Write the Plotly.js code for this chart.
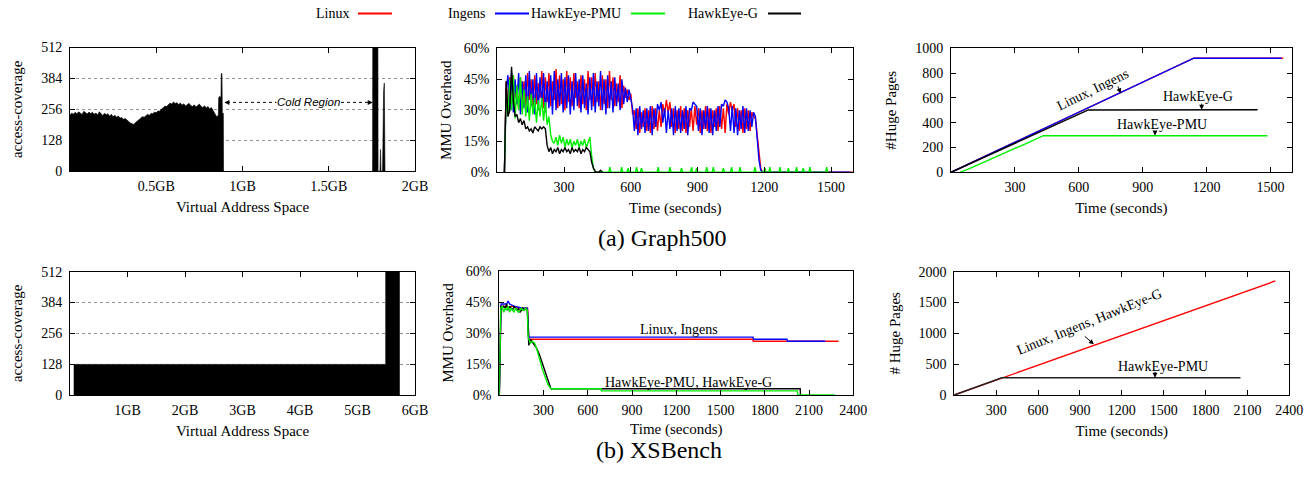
<!DOCTYPE html>
<html><head><meta charset="utf-8">
<script src="https://cdn.plot.ly/plotly-3.0.1.min.js"></script>
<style>html,body{margin:0;padding:0;background:#fff}#chart{width:1313px;height:479px}</style>
</head><body><div id="chart"></div>
<script>
// ---------------- DATA ----------------
// (a) Graph500 access-coverage profile, sampled every 0.01 GB from 0 GB
const g500CovStep = 0.01;
const g500Cov = [232,241,236,244,238,246,240,235,248,242,237,245,239,244,236,241,233,246,238,231,
  240,234,238,228,236,226,232,224,229,220,222,215,218,210,206,200,196,194,202,208,
  214,220,226,224,232,236,231,240,238,245,242,250,248,258,262,270,268,276,282,278,
  287,280,284,276,282,274,279,270,276,281,272,268,275,266,272,278,268,264,271,262,
  268,258,264,252,238,226,232];
const g500CovTailX = [0.862,0.870,0.875,0.877,0.881,0.883,0.889,0.890];
const g500CovTailY = [305,310,300,404,404,240,240,0];
const g500HotX = [1.754,1.755,1.785,1.786,1.797,1.800,1.803,1.812,1.818,1.822,1.826];
const g500HotY = [0,512,512,0,0,90,0,0,330,365,0];

// (a) Graph500 MMU overhead (%), sampled every 8 s from t = 32 s
const g500T0 = 32, g500Dt = 8;
const g500Linux = [0,44,31,46,33,47,36,42,30,46,34,44,32,48,35,45,30,47,33,43,36,49,31,46,34,48,32,44,35,50,31,47,33,45,30,49,34,46,32,48,36,44,31,47,33,45,30,49,35,46,32,48,34,44,30,47,33,45,31,49,35,46,32,43,34,47,31,42,36,40,35,38,28,
  30,21,31,19,29,22,31,20,30,19,32,21,31,20,30,22,33,28,35,29,34,22,31,19,30,21,32,20,31,19,30,22,31,20,32,23,31,19,30,21,32,20,31,19,30,22,31,20,32,21,31,19,33,28,34,30,33,22,31,20,30,19,31,21,30,20,29,27,26,18,8,2,0];
const g500Ingens = [0,40,47,30,48,29,45,33,48,28,44,31,47,29,49,32,45,28,48,30,46,33,48,29,44,31,47,28,49,30,45,32,48,29,46,31,47,28,44,30,48,32,45,29,47,31,43,28,46,30,48,29,44,32,49,30,45,28,47,31,44,29,46,32,43,30,45,33,41,34,40,36,31,
  20,31,18,32,21,30,19,31,20,32,18,31,22,33,30,34,24,31,19,30,21,31,18,32,20,31,19,30,21,32,18,31,30,34,33,32,20,31,18,30,21,32,19,31,18,30,20,32,22,33,32,35,34,31,20,32,19,31,18,30,21,32,19,31,20,30,22,29,27,17,6,1,0];
const g500PMU = [0,38,27,45,30,47,26,42,30,46,28,40,27,37,25,38,28,36,24,35,27,36,25,34,23,27,18,15,14,17,13,18,14,17,12,16,13,16,12,15,13,16,12,15,13,16,12,15,17,8,2,0];
const g500G = [0,44,27,30,51,35,27,28,24,26,23,25,21,22,20,21,19,22,21,20,22,21,22,21,13,10,12,9,11,10,12,9,11,10,12,10,11,9,12,10,11,10,12,9,11,10,12,11,10,5,2,0.5,0,0,1,0];
const g500PMUSpikeT = [506,559,588,626,648,723,776,828,873,896,941,971,1016,1053,1091,1158,1203,1225,1270,1308,1345,1375,1405,1480];
const g500PMUSpikeV = [2.5,2.5,2,2.5,2,2.5,2.5,2,2.5,2,2.5,2.5,2,2.5,2.5,2.5,2,2.5,2.5,2,2.5,2,2.5,2.5];
const g500EndT = 1600, g500PMUEndT = 1490;

// (a) Graph500 huge pages
const g500HpLinuxT = [0,1140,1560], g500HpLinuxV = [0,920,920];
const g500HpIngensT = [0,1140,1552], g500HpIngensV = [0,920,920];
const g500HpGT = [0,645,1440], g500HpGV = [0,503,505];
const g500HpPMUT = [42,89,355,434,1486], g500HpPMUV = [0,32,234,295,295];

// (b) XSBench access-coverage
const xsCovX = [0.07,0.07,5.49,5.49,5.73,5.73];
const xsCovY = [0,127,127,512,512,0];

// (b) XSBench MMU overhead (%)
const xsLinuxT = [0,12,30,60,90,120,150,180,192,200,1718,1722,2300];
const xsLinuxV = [0,43,43,42.5,43,42.5,42,42,42,27,27,26,26];
const xsIngensT = [0,12,30,50,60,70,100,130,160,190,196,200,1720,1724,1950,1954,2210];
const xsIngensV = [0,44,44,44,45.5,44,43,42.5,42,42,30,28,28,27,27,26,26];
const xsGT = [0,10,20,30,40,50,60,70,80,90,100,110,120,130,140,150,160,170,180,190,196,200,210,230,250,270,290,310,330,350,2040,2042];
const xsGV = [0,43,42,43,42,44,41,43,42,41,43,42,41,42,40,41,42,41,42,41,30,24,27,25,23,20,16,12,7,3,3,0];
const xsPMUT = [0,10,20,30,40,50,60,70,80,90,100,110,120,130,140,150,160,170,180,190,196,210,225,240,255,270,290,310,330,350,360,690,692,2020,2024,2275];
const xsPMUV = [0,42,43,40,42,41,43,40,42,41,40,42,41,40,41,42,41,41,42,41,28,25,26,25,22,18,13,9,5,3,3,3,2,2,0,0];

// (b) XSBench huge pages
const xsHpLinuxT = [0,2300], xsHpLinuxV = [0,1850];
const xsHpPMUT = [0,340,2050], xsHpPMUV = [0,280,280];

// tick labels
const covTicks = [0,128,256,384,512];
const pctTicks = [0,15,30,45,60];
const pctLabels = ['0%','15%','30%','45%','60%'];
const g500GBTicks = [0.5,1,1.5,2], g500GBLabels = ['0.5GB','1GB','1.5GB','2GB'];
const xsGBTicks = [1,2,3,4,5,6], xsGBLabels = ['1GB','2GB','3GB','4GB','5GB','6GB'];
const g500TimeTicks = [300,600,900,1200,1500];
const xsTimeTicks = [300,600,900,1200,1500,1800,2100,2400];

// ---------------- LAYOUT HELPERS ----------------
const W = 1313, H = 479;
const FONT = 'Liberation Serif';
const C = {linux:'#ff0000', ingens:'#0000ff', pmu:'#00ee00', g:'#000000'};
const px = v => v / W;
const py = v => 1 - v / H;
const dom = (a, b) => [a / W, b / W];
const domY = (top, bottom) => [1 - bottom / H, 1 - top / H];

function axis(extra) {
  return Object.assign({
    showline: true, mirror: 'ticks', linecolor: '#000', linewidth: 1,
    ticks: 'inside', ticklen: 5, tickwidth: 1, tickcolor: '#000',
    showgrid: false, zeroline: false, fixedrange: true,
    ticklabelstandoff: 4,
    tickfont: {family: FONT, size: 14, color: '#000'}
  }, extra);
}
function xaxis(extra) { return axis(Object.assign({ticklabelstandoff: 2}, extra)); }
function ttl(text, standoff) {
  return {text: text, font: {family: FONT, size: 15, color: '#000'}, standoff: standoff};
}
function line(x, y, color, xa, ya, w) {
  return {type: 'scatter', mode: 'lines', x: x, y: y, xaxis: xa, yaxis: ya,
    line: {color: color, width: w || 1.4}, hoverinfo: 'skip', showlegend: false};
}
function seqT(t0, dt, n) { const a = []; for (let i = 0; i < n; i++) a.push(t0 + i * dt); return a; }

// ---------------- TRACES ----------------
const traces = [];
// Panel 1
const p1x = seqT(0, g500CovStep, g500Cov.length).concat(g500CovTailX);
const p1y = g500Cov.concat(g500CovTailY);
traces.push({type:'scatter', mode:'lines', x:[0].concat(p1x), y:[0].concat(p1y), xaxis:'x', yaxis:'y',
  fill:'tozeroy', fillcolor:'#000', line:{color:'#000', width:0.6}, hoverinfo:'skip', showlegend:false});
traces.push({type:'scatter', mode:'lines', x:g500HotX, y:g500HotY, xaxis:'x', yaxis:'y',
  fill:'tozeroy', fillcolor:'#000', line:{color:'#000', width:0.6}, hoverinfo:'skip', showlegend:false});

// Panel 2
const tLin = seqT(g500T0, g500Dt, g500Linux.length);
traces.push(line(tLin.concat([g500EndT]), g500Linux.concat([0]), C.linux, 'x2', 'y2'));
traces.push(line(seqT(g500T0, g500Dt, g500Ingens.length).concat([g500EndT - 12]), g500Ingens.concat([0]), C.ingens, 'x2', 'y2'));
let pmuX = seqT(g500T0, g500Dt, g500PMU.length), pmuY = g500PMU.slice();
g500PMUSpikeT.forEach((t, i) => { pmuX.push(t - 5, t, t + 5); pmuY.push(0, g500PMUSpikeV[i], 0); });
pmuX.push(g500PMUEndT); pmuY.push(0);
traces.push(line(pmuX, pmuY, C.pmu, 'x2', 'y2'));
traces.push(line(seqT(g500T0, g500Dt, g500G.length), g500G, C.g, 'x2', 'y2'));

// Panel 3
traces.push(line(g500HpLinuxT, g500HpLinuxV, C.linux, 'x3', 'y3'));
traces.push(line(g500HpIngensT, g500HpIngensV, C.ingens, 'x3', 'y3'));
traces.push(line(g500HpGT, g500HpGV, C.g, 'x3', 'y3'));
traces.push(line(g500HpPMUT, g500HpPMUV, C.pmu, 'x3', 'y3'));

// Panel 4
traces.push({type:'scatter', mode:'lines', x:xsCovX, y:xsCovY, xaxis:'x4', yaxis:'y4',
  fill:'toself', fillcolor:'#000', line:{color:'#000', width:0.6}, hoverinfo:'skip', showlegend:false});

// Panel 5
traces.push(line(xsLinuxT, xsLinuxV, C.linux, 'x5', 'y5'));
traces.push(line(xsIngensT, xsIngensV, C.ingens, 'x5', 'y5'));
traces.push(line(xsGT, xsGV, C.g, 'x5', 'y5'));
traces.push(line(xsPMUT, xsPMUV, C.pmu, 'x5', 'y5'));

// Panel 6
traces.push(line(xsHpLinuxT, xsHpLinuxV, C.linux, 'x6', 'y6'));
traces.push(line(xsHpPMUT, xsHpPMUV, '#222', 'x6', 'y6'));

// ---------------- AXES ----------------
const grid = {showgrid:true, gridcolor:'#777', griddash:'dot', gridwidth:0.8};
const layout = {
  width: W, height: H, margin: {l:0, r:0, t:0, b:0},
  paper_bgcolor: '#fff', plot_bgcolor: '#fff', showlegend: false,
  xaxis: xaxis({domain: dom(70, 415), anchor:'y', range:[0,2], tickvals:g500GBTicks, ticktext:g500GBLabels, title: ttl('Virtual Address Space', 8)}),
  yaxis: axis(Object.assign({domain: domY(47.5, 171.3), anchor:'x', range:[0,512], tickvals:covTicks, title: ttl('access-coverage', 14)}, grid)),
  xaxis2: xaxis({domain: dom(497.3, 853.3), anchor:'y2', range:[0,1600], tickvals:g500TimeTicks, title: ttl('Time (seconds)', 8)}),
  yaxis2: axis({domain: domY(48.3, 172.3), anchor:'x2', range:[0,60], tickvals:pctTicks, ticktext:pctLabels, title: ttl('MMU Overhead', 8)}),
  xaxis3: xaxis({domain: dom(951, 1291.7), anchor:'y3', range:[0,1600], tickvals:g500TimeTicks, title: ttl('Time (seconds)', 8)}),
  yaxis3: axis({domain: domY(48.3, 172.3), anchor:'x3', range:[0,1000], tickvals:[0,200,400,600,800,1000], title: ttl('#Huge Pages', 14)}),
  xaxis4: xaxis({domain: dom(70, 415), anchor:'y4', range:[0,6], tickvals:xsGBTicks, ticktext:xsGBLabels, title: ttl('Virtual Address Space', 8)}),
  yaxis4: axis(Object.assign({domain: domY(271.7, 395), anchor:'x4', range:[0,512], tickvals:covTicks, title: ttl('access-coverage', 14)}, grid)),
  xaxis5: xaxis({domain: dom(499.3, 853.3), anchor:'y5', range:[0,2400], tickvals:xsTimeTicks, title: ttl('Time (seconds)', 6)}),
  yaxis5: axis({domain: domY(271, 395), anchor:'x5', range:[0,60], tickvals:pctTicks, ticktext:pctLabels, title: ttl('MMU Overhead', 8)}),
  xaxis6: xaxis({domain: dom(954.3, 1289.3), anchor:'y6', range:[0,2400], tickvals:xsTimeTicks, title: ttl('Time (seconds)', 8)}),
  yaxis6: axis({domain: domY(271.7, 395), anchor:'x6', range:[0,2000], tickvals:[0,500,1000,1500,2000], title: ttl('# Huge Pages', 14)}),
  shapes: [], annotations: []
};

// ---------------- ANNOTATIONS ----------------
const A = layout.annotations, S = layout.shapes;
const txtFont = {family: FONT, size: 14, color: '#000'};
function note(xr, yr, x, y, text, angle) {
  A.push({xref:xr, yref:yr, x:x, y:y, text:text, showarrow:false, font:txtFont, textangle:angle || 0});
}
function arrow(xr, yr, x, y, ax, ay) {
  A.push({xref:xr, yref:yr, x:x, y:y, axref:xr, ayref:yr, ax:ax, ay:ay, text:'', showarrow:true,
    arrowhead:2, arrowsize:1, arrowwidth:1, arrowcolor:'#000'});
}
// legend (text before line, gnuplot style)
const legend = [['Linux', 351, 358, 392, C.linux], ['Ingens', 487, 495, 529, C.ingens],
  ['HawkEye-PMU', 623, 631, 665, C.pmu], ['HawkEye-G', 760, 768, 801, C.g]];
legend.forEach(e => {
  A.push({xref:'paper', yref:'paper', x:px(e[1]), y:py(13.5), xanchor:'right', yanchor:'middle', text:e[0], showarrow:false, font:{family:FONT, size:14, color:'#000'}});
  S.push({type:'line', xref:'paper', yref:'paper', x0:px(e[2]), x1:px(e[3]), y0:py(13.5), y1:py(13.5), line:{color:e[4], width:2}});
});
// captions
A.push({xref:'paper', yref:'paper', x:px(662), y:py(238), text:'(a) Graph500', showarrow:false, font:{family:FONT, size:24, color:'#000'}});
A.push({xref:'paper', yref:'paper', x:px(659), y:py(465), text:'(b) XSBench', showarrow:false, font:{family:FONT, size:24, color:'#000'}});
// panel 1 cold region
S.push({type:'line', xref:'x', yref:'y', x0:0.91, x1:1.74, y0:285, y1:285, line:{color:'#000', width:1, dash:'dot'}});
arrow('x', 'y', 0.895, 285, 0.93, 285);
arrow('x', 'y', 1.755, 285, 1.72, 285);
A.push({xref:'x', yref:'y', x:1.38, y:285, text:'<i>Cold Region</i>', showarrow:false, bgcolor:'#fff', borderpad:0,
  font:{family:'Liberation Sans', size:11.5, color:'#000'}});
// panel 3
note('x3', 'y3', 668, 664, 'Linux, Ingens', -26);
arrow('x3', 'y3', 797, 637, 781, 704);
note('x3', 'y3', 1162, 615, 'HawkEye-G');
arrow('x3', 'y3', 1177, 505, 1177, 565);
note('x3', 'y3', 989, 382, 'HawkEye-PMU');
arrow('x3', 'y3', 958, 296, 958, 345);
// panel 5
note('x5', 'y5', 1220, 31.5, 'Linux, Ingens');
note('x5', 'y5', 1281, 6.1, 'HawkEye-PMU, HawkEye-G');
// panel 6
note('x6', 'y6', 972, 1189, 'Linux, Ingens, HawkEye-G', -22);
arrow('x6', 'y6', 1000, 822, 924, 973);
note('x6', 'y6', 1497, 470, 'HawkEye-PMU');
arrow('x6', 'y6', 1438, 280, 1438, 400);

Plotly.newPlot('chart', traces, layout, {staticPlot: true, displayModeBar: false});
</script>
</body></html>
